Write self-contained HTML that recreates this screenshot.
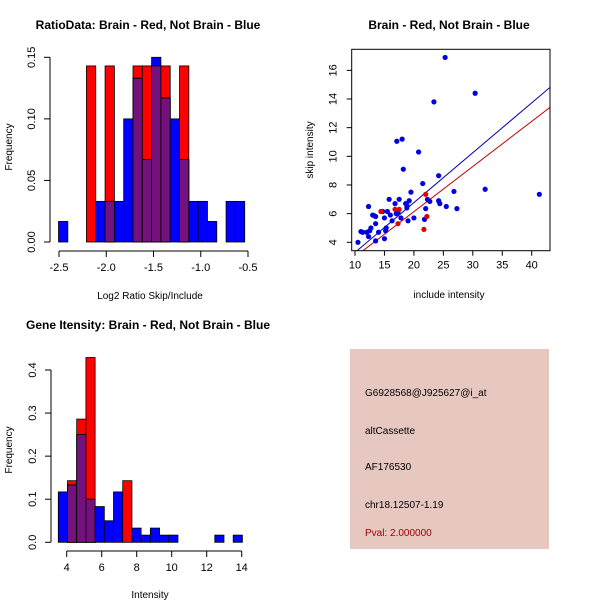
<!DOCTYPE html>
<html><head><meta charset="utf-8"><style>
body{margin:0;background:#fff}
svg{display:block;font-family:"Liberation Sans",sans-serif}
</style></head><body>
<svg id="c" width="600" height="600">
<rect width="600" height="600" fill="#fff"/>
<text x="148" y="29" font-size="12" font-weight="bold" text-anchor="middle">RatioData: Brain - Red, Not Brain - Blue</text>
<text x="449" y="29" font-size="12" font-weight="bold" text-anchor="middle">Brain - Red, Not Brain - Blue</text>
<text x="148" y="329" font-size="12" font-weight="bold" text-anchor="middle">Gene Itensity: Brain - Red, Not Brain - Blue</text>
<text x="150" y="299" font-size="10" text-anchor="middle">Log2 Ratio Skip/Include</text>
<text transform="translate(12,147) rotate(-90)" font-size="10" text-anchor="middle">Frequency</text>
<text x="449" y="298" font-size="10" text-anchor="middle">include intensity</text>
<text transform="translate(313,150) rotate(-90)" font-size="10" text-anchor="middle">skip intensity</text>
<text x="150" y="598" font-size="10" text-anchor="middle">Intensity</text>
<text transform="translate(12,450) rotate(-90)" font-size="10" text-anchor="middle">Frequency</text>
<g id="p1"></g>
<g id="p2"></g>
<g id="p3"></g>
<rect x="350" y="349" width="199" height="200" fill="#e6c8c0"/>
<g font-size="10">
<text x="365" y="396">G6928568@J925627@i_at</text>
<text x="365" y="434">altCassette</text>
<text x="365" y="470">AF176530</text>
<text x="365" y="508">chr18.12507-1.19</text>
<text x="365" y="536" fill="#a00000">Pval: 2.000000</text>
</g>
</svg>
<script>
// Ratio histogram data
const ratioBlue=[0.0167,0,0,0,0.033,0.033,0.033,0.1,0.133,0.067,0.15,0.117,0.1,0.067,0.033,0.033,0.0167,0,0.033,0.033];
const ratioRed=[0,0,0,0.143,0,0.143,0,0,0.143,0.143,0.143,0.143,0,0.143,0,0,0,0,0,0];
const ratioXTicks=[-2.5,-2,-1.5,-1,-0.5];
const ratioXLabels=["-2.5","-2.0","-1.5","-1.0","-0.5"];
const ratioYTicks=[0,0.05,0.1,0.15];
const ratioYLabels=["0.00","0.05","0.10","0.15"];
// Scatter data
const blueX=[10.5,11,11.3,12,12.3,12.5,12.3,12.7,13,13.3,13.5,13.5,13.5,14,14.7,15,15,15.2,15.3,15.5,15.8,16,16.3,16.8,17,17.1,17.3,17.5,17.8,18,18.2,18.6,18.8,18.8,19,19.2,19.5,20,20.8,21.5,21.8,22,22.3,22.7,23.4,24.2,24.2,24.4,25.3,25.5,26.8,27.3,30.4,32.1,41.3];
const blueY=[4.0,4.75,4.7,4.7,4.4,4.8,6.5,5.0,5.9,5.85,5.8,5.3,4.1,4.7,6.15,5.7,4.25,4.8,5.0,6.15,7.0,5.9,5.5,6.7,6.0,11.05,6.1,7.0,5.7,11.2,9.1,6.7,6.4,6.6,5.5,6.9,7.5,5.7,10.3,8.1,5.6,6.35,7.0,6.85,13.8,8.65,6.9,6.7,16.9,6.5,7.55,6.35,14.4,7.7,7.35];
const redX=[14.4,16.8,17.3,17.5,21.7,22,22.2];
const redY=[6.15,6.3,5.3,6.3,4.9,7.35,5.8];
const fitBlue=[-0.19,0.348];
const fitRed=[-0.16,0.315];
const scXTicks=[10,15,20,25,30,35,40];
const scYTicks=[4,6,8,10,12,14,16];
// Intensity histogram data
const intBlue=[0.117,0.133,0.25,0.1,0.083,0.05,0.117,0,0.033,0.0167,0.033,0.0167,0.0167,0,0,0,0,0.0167,0,0.0167];
const intRed=[0,0.143,0.286,0.429,0,0,0,0.143,0,0,0,0,0,0,0,0,0,0,0,0];
const intXTicks=[4,6,8,10,12,14];
const intYTicks=[0,0.1,0.2,0.3,0.4];
const intYLabels=["0.0","0.1","0.2","0.3","0.4"];

const NS="http://www.w3.org/2000/svg";
function mk(parent,tag,attrs){const e=document.createElementNS(NS,tag);for(const k in attrs)e.setAttribute(k,attrs[k]);parent.appendChild(e);return e;}

function hist(g,blue,red,start,bw,sx,sy,xt,xl,yt,yl,yAxisX,xAxisY,xMin,xMax,yMin,yMax,pre){
  for(let i=0;i<blue.length;i++){
    const x0=sx(start+i*bw),x1=sx(start+(i+1)*bw);
    const b=blue[i],r=red[i];
    if(r>0){const e=mk(g,'rect',{x:x0,y:sy(r),width:x1-x0,height:sy(0)-sy(r),fill:'#ff0000',stroke:'#000','stroke-width':0.8});
      
      }
    if(b>0){const e=mk(g,'rect',{x:x0,y:sy(b),width:x1-x0,height:sy(0)-sy(b),fill:'#0000ff',stroke:'#000','stroke-width':0.8});
      
      }
    const m=Math.min(b,r);
    if(m>0){const e=mk(g,'rect',{x:x0,y:sy(m),width:x1-x0,height:sy(0)-sy(m),fill:'#73127d',stroke:'#000','stroke-width':0.8});
      
      }
  }
  mk(g,'line',{x1:sx(xMin),x2:sx(xMax),y1:xAxisY,y2:xAxisY,stroke:'#000'});
  xt.forEach((v,i)=>{mk(g,'line',{x1:sx(v),x2:sx(v),y1:xAxisY,y2:xAxisY+6,stroke:'#000'});
    const t=mk(g,'text',{x:sx(v),y:xAxisY+20,'font-size':11,'text-anchor':'middle'});t.textContent=xl[i];
    
    });
  mk(g,'line',{x1:yAxisX,x2:yAxisX,y1:sy(yMin),y2:sy(yMax),stroke:'#000'});
  yt.forEach((v,i)=>{mk(g,'line',{x1:yAxisX,x2:yAxisX-6,y1:sy(v),y2:sy(v),stroke:'#000'});
    const t=mk(g,'text',{transform:`translate(${yAxisX-15},${sy(v)}) rotate(-90)`,'font-size':11,'text-anchor':'middle'});t.textContent=yl[i];
    
    });
}
// Plot 1
{const g=document.getElementById('p1');
 const sx=v=>59+(v+2.5)*94.5, sy=v=>242-v*1231.3;
 hist(g,ratioBlue,ratioRed,-2.505,0.0985,sx,sy,ratioXTicks,ratioXLabels,ratioYTicks,ratioYLabels,50,251,-2.5,-0.5,0,0.15,'ratio');}
// Plot 3
{const g=document.getElementById('p3');
 const sx=v=>66.7+(v-4)*17.5, sy=v=>542.3-v*430.8;
 hist(g,intBlue,intRed,3.52,0.526,sx,sy,intXTicks,intXTicks.map(String),intYTicks,intYLabels,51,551,4,14,0,0.4,'intensity');}
// Plot 2
{const g=document.getElementById('p2');
 const sx=v=>355+(v-10)*5.89, sy=v=>242.3-(v-4)*14.33;
 const L=351.7,R=550,T=49.3,B=250.7;
 mk(g,'defs',{}).innerHTML='<clipPath id="cp"><rect x="'+L+'" y="'+T+'" width="'+(R-L)+'" height="'+(B-T)+'"/></clipPath>';
 const lx0=9.5,lx1=43.5;
 [[fitBlue,'#0000b0','blue-fit-line'],[fitRed,'#c00000','red-fit-line']].forEach(([f,c,n])=>{
   const e=mk(g,'line',{x1:sx(lx0),y1:sy(f[0]+f[1]*lx0),x2:sx(lx1),y2:sy(f[0]+f[1]*lx1),stroke:c,'stroke-width':1,'clip-path':'url(#cp)'});
   
   });
 blueX.forEach((x,i)=>{const e=mk(g,'circle',{cx:sx(x),cy:sy(blueY[i]),r:2.6,fill:'#0000e0'});
   
   });
 redX.forEach((x,i)=>{const e=mk(g,'circle',{cx:sx(x),cy:sy(redY[i]),r:2.6,fill:'#e00000'});
   
   });
 mk(g,'rect',{x:L,y:T,width:R-L,height:B-T,fill:'none',stroke:'#000'});
 scXTicks.forEach(v=>{mk(g,'line',{x1:sx(v),x2:sx(v),y1:B,y2:B+5,stroke:'#000'});
   const t=mk(g,'text',{x:sx(v),y:B+18,'font-size':11,'text-anchor':'middle'});t.textContent=v;
   
   });
 scYTicks.forEach(v=>{mk(g,'line',{x1:L,x2:L-5,y1:sy(v),y2:sy(v),stroke:'#000'});
   const t=mk(g,'text',{transform:`translate(${L-15},${sy(v)}) rotate(-90)`,'font-size':11,'text-anchor':'middle'});t.textContent=v;
   
   });
}
</script>
</body></html>
